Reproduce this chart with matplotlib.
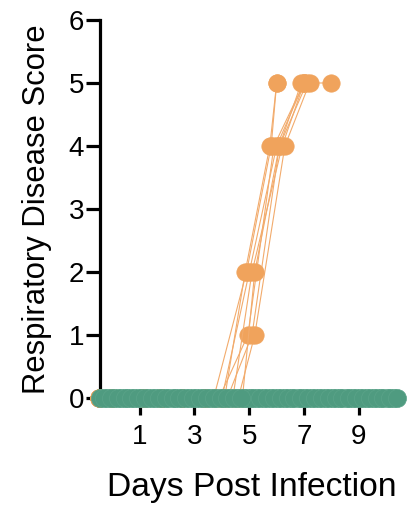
import matplotlib
matplotlib.use("Agg")
import matplotlib.pyplot as plt

plt.rcParams['font.family'] = ['Liberation Sans', 'DejaVu Sans']

# ---- data ----
x_ticks = [1, 3, 5, 7, 9]
y_ticks = [0, 1, 2, 3, 4, 5, 6]

# Orange group: individual animals (days, scores)
orange_days = [
    [-0.5, 0.0, 1.2, 1.8, 2.55, 3.4, 3.7, 4.9, 5.8, 6.0],
    [-0.5, 0.0, 1.1, 1.8, 2.55, 3.4, 3.9, 4.95, 5.9, 7.0],
    [-0.5, 0.0, 1.2, 1.75, 2.55, 3.4, 4.0, 5.0, 6.0, 7.0],
    [-0.5, 0.0, 1.1, 1.8, 2.55, 3.4, 4.2, 5.1, 6.1, 7.1],
    [-0.5, 0.0, 1.2, 1.8, 2.55, 3.4, 4.4, 5.1, 6.2, 7.0, 8.0],
    [-0.5, 0.0, 1.1, 1.75, 2.55, 3.4, 4.6, 5.2, 6.3, 7.2],
    [-0.5, 0.0, 1.2, 1.8, 2.55, 3.4, 4.75, 5.2, 6.1, 6.9],
    [-0.5, 0.0, 1.1, 1.8, 2.55, 3.4, 4.1, 4.85, 5.75, 6.0],
]
orange_scores = [
    [0, 0, 0, 0, 0, 0, 0, 2, 4, 5],
    [0, 0, 0, 0, 0, 0, 0, 1, 4, 5],
    [0, 0, 0, 0, 0, 0, 0, 2, 4, 5],
    [0, 0, 0, 0, 0, 0, 0, 1, 4, 5],
    [0, 0, 0, 0, 0, 0, 0, 2, 4, 5, 5],
    [0, 0, 0, 0, 0, 0, 0, 1, 4, 5],
    [0, 0, 0, 0, 0, 0, 0, 2, 4, 5],
    [0, 0, 0, 0, 0, 0, 0, 2, 4, 5],
]

# Green group: all scores stay at 0
green_days_a = [-0.45, -0.2, 0.05, 0.3, 0.55, 0.8, 1.05, 1.3, 1.55, 1.8, 2.05,
                2.3, 2.55, 2.8, 3.05, 3.3, 3.55, 3.8, 4.05, 4.3, 4.55, 4.8,
                5.05, 5.3, 5.55, 5.8, 6.05, 6.3, 6.55, 6.8, 7.05, 7.3, 7.55,
                7.8, 8.05, 8.3, 8.55, 8.8, 9.05, 9.3, 9.55, 9.8, 10.05, 10.3]
green_days_b = [4.9, 5.15, 5.4, 5.65, 5.9, 6.15, 6.4, 6.65, 6.9, 7.15, 7.4,
                7.65, 7.9, 8.15, 8.4, 8.65, 8.9, 9.15, 9.4, 9.65, 9.9, 10.15,
                10.4]
green_days_c = [-0.3, -0.05, 0.2, 0.45, 0.7, 0.95, 1.2, 1.45, 1.7, 1.95,
                2.2, 2.45, 2.7, 2.95, 3.2, 3.45, 3.7, 3.95, 4.2, 4.45, 4.7]
green_scores_a = [0] * len(green_days_a)
green_scores_b = [0] * len(green_days_b)
green_scores_c = [0] * len(green_days_c)

ORANGE = '#f0a35c'
ORANGE_LINE = '#f2ab6c'
GREEN = '#4f9b80'

fig = plt.figure(figsize=(4.09, 5.15), dpi=100)
ax = fig.add_axes([0.2445, 0.2272, 0.740, 0.734])

for d, s in zip(orange_days, orange_scores):
    ax.plot(d, s, color=ORANGE_LINE, lw=0.8, marker='o', markersize=12.5,
            markerfacecolor=ORANGE, markeredgecolor=ORANGE,
            markeredgewidth=0.5, clip_on=False, zorder=3)

for d, s in ((green_days_a, green_scores_a), (green_days_b, green_scores_b),
             (green_days_c, green_scores_c)):
    ax.plot(d, s, color=GREEN, lw=0.9, marker='o', markersize=13,
            markerfacecolor=GREEN, markeredgecolor='#5aa389',
            markeredgewidth=0.5, clip_on=False, zorder=4)

ax.set_xlim(-0.45, 10.6)
ax.set_ylim(0, 6)
ax.set_xticks(x_ticks)
ax.set_yticks(y_ticks)
ax.set_xticklabels([str(t) for t in x_ticks])
ax.set_yticklabels([str(t) for t in y_ticks])

for side in ('top', 'right'):
    ax.spines[side].set_visible(False)
ax.spines['left'].set_linewidth(2.3)
ax.spines['bottom'].set_linewidth(2.3)
ax.spines['bottom'].set_zorder(1)
ax.tick_params(axis='both', width=2.3, labelsize=20, colors='black')
ax.tick_params(axis='x', length=12, pad=6.5)
ax.tick_params(axis='y', length=10, pad=1.5)

ax.set_xlabel('Days Post Infection', fontsize=24.2, labelpad=16)
ax.set_ylabel('Respiratory Disease Score', fontsize=22.3, labelpad=12)

fig.savefig('out.png', dpi=100)
